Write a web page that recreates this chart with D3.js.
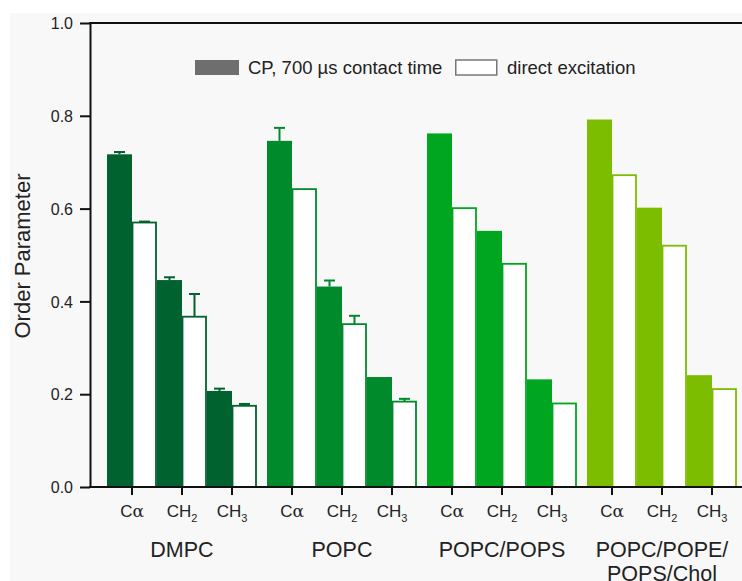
<!DOCTYPE html>
<html>
<head>
<meta charset="utf-8">
<style>
body { margin:0; background:#fff; }
svg { display:block; font-family:"Liberation Sans", Arial, sans-serif; }
.axis path, .axis line { stroke:#111; stroke-width:2; }
.axis text { font-size:16px; fill:#222; }
</style>
</head>
<body>
<svg id="chart"></svg>
<script src="https://cdnjs.cloudflare.com/ajax/libs/d3/7.8.5/d3.min.js"></script>
<script>
// data
var groups = ["DMPC", "POPC", "POPC/POPS", "POPC/POPE/POPS/Chol"]
var groupLines = [["DMPC"], ["POPC"], ["POPC/POPS"], ["POPC/POPE/", "POPS/Chol"]]
var sites = ["Cα", "CH2", "CH3"]
var series = ["CP, 700 µs contact time", "direct excitation"]
var cpValues = [[0.717, 0.446, 0.207], [0.746, 0.432, 0.237], [0.762, 0.552, 0.232], [0.792, 0.602, 0.241]]
var cpErrors = [[0.005, 0.006, 0.005], [0.028, 0.013, 0], [0, 0, 0], [0, 0, 0]]
var deValues = [[0.570, 0.367, 0.175], [0.642, 0.351, 0.184], [0.601, 0.481, 0.180], [0.672, 0.520, 0.211]]
var deErrors = [[0.002, 0.049, 0.004], [0, 0.018, 0.006], [0, 0, 0], [0, 0, 0]]
var yTicks = [0, 0.2, 0.4, 0.6, 0.8, 1.0]
var groupColors = ["#00622e", "#008a2b", "#00a61f", "#7cbd00"]

var W = 742, H = 581
var m = {left: 90, right: 742, top: 23, bottom: 487}

var svg = d3.select("#chart").attr("width", W).attr("height", H)

svg.append("rect").attr("x", 10).attr("y", 13).attr("width", W - 10).attr("height", H - 13)
  .attr("fill", "#f8f8f8")

var y = d3.scaleLinear().domain([0, 1]).range([m.bottom, m.top])
var x0 = d3.scaleBand().domain(groups).range([102, 742])
var x1 = d3.scaleBand().domain(sites).range([5, x0.bandwidth() - 5])
var x2 = d3.scaleBand().domain(series).range([0, x1.bandwidth()])

// flatten
var rows = []
groups.forEach(function(g, gi) {
  sites.forEach(function(s, si) {
    rows.push({g: g, gi: gi, s: s, k: 0, v: cpValues[gi][si], e: cpErrors[gi][si]})
    rows.push({g: g, gi: gi, s: s, k: 1, v: deValues[gi][si], e: deErrors[gi][si]})
  })
})
function bx(d) { return x0(d.g) + x1(d.s) + x2(series[d.k]) }
var bw = x2.bandwidth()

var gBars = svg.append("g")
gBars.selectAll("rect.cp").data(rows.filter(d => d.k == 0)).enter().append("rect")
  .attr("x", d => bx(d)).attr("width", bw)
  .attr("y", d => y(d.v)).attr("height", d => m.bottom - y(d.v))
  .attr("fill", d => groupColors[d.gi])
gBars.selectAll("rect.de").data(rows.filter(d => d.k == 1)).enter().append("rect")
  .attr("x", d => bx(d) + 0.5).attr("width", bw - 1.5)
  .attr("y", d => y(d.v)).attr("height", d => m.bottom - y(d.v))
  .attr("fill", "#fff").attr("stroke", d => groupColors[d.gi]).attr("stroke-width", 1.8)

// error bars (upper only)
var errs = gBars.selectAll("g.err").data(rows.filter(d => d.e > 0)).enter().append("g")
  .attr("stroke", d => groupColors[d.gi]).attr("stroke-width", 2)
errs.append("line")
  .attr("x1", d => bx(d) + bw / 2).attr("x2", d => bx(d) + bw / 2)
  .attr("y1", d => y(d.v)).attr("y2", d => y(d.v + d.e))
errs.append("line")
  .attr("x1", d => bx(d) + bw / 2 - 5.5).attr("x2", d => bx(d) + bw / 2 + 5.5)
  .attr("y1", d => y(d.v + d.e)).attr("y2", d => y(d.v + d.e))

// y axis
var yAxis = svg.append("g").attr("class", "axis")
  .attr("transform", "translate(" + m.left + ",0)")
  .call(d3.axisLeft(y).tickValues(yTicks).tickFormat(d3.format(".1f")).tickSize(10).tickSizeOuter(0))
yAxis.selectAll("text").attr("x", -17).attr("dy", "0.36em")

// frame lines top and bottom
svg.append("line").attr("x1", m.left - 1).attr("x2", m.right).attr("y1", m.top).attr("y2", m.top)
  .attr("stroke", "#111").attr("stroke-width", 2)
svg.append("line").attr("x1", m.left - 1).attr("x2", m.right).attr("y1", m.bottom).attr("y2", m.bottom)
  .attr("stroke", "#111").attr("stroke-width", 2)

// x axis, one per group
groups.forEach(function(g, gi) {
  var ax = svg.append("g").attr("class", "axis")
    .attr("transform", "translate(" + x0(g) + "," + m.bottom + ")")
    .call(d3.axisBottom(x1).tickSize(8).tickSizeOuter(0).tickFormat(""))
  ax.select(".domain").remove()
  ax.selectAll(".tick line").attr("transform", "translate(" + (-x1.bandwidth() / 2 + bw) + ",0)")
  ax.selectAll(".tick").each(function(s) {
    var t = d3.select(this).append("text")
      .attr("x", bw - x1.bandwidth() / 2).attr("y", 30)
      .attr("text-anchor", "middle").attr("fill", "#222").style("font-size", "17px")
    if (s == "Cα") {
      t.append("tspan").text("C")
      t.append("tspan").text("α").style("font-family", "DejaVu Serif").style("font-size", "17px")
    } else {
      t.append("tspan").text("CH")
      t.append("tspan").text(s.slice(2)).attr("dy", 5).style("font-size", "11px")
    }
  })
  var gl = svg.append("text")
    .attr("x", x0(g) + x1("CH2") + bw).attr("y", 557)
    .attr("text-anchor", "middle").attr("fill", "#222").style("font-size", "21.5px")
  groupLines[gi].forEach(function(line, li) {
    gl.append("tspan").attr("x", x0(g) + x1("CH2") + bw).attr("dy", li ? 24 : 0).text(line)
  })
})

// y label
svg.append("text")
  .attr("transform", "translate(30,256) rotate(-90)")
  .attr("text-anchor", "middle").attr("fill", "#222").style("font-size", "22px")
  .text("Order Parameter")

// legend
var leg = [{x: 195, tx: 248}, {x: 455, tx: 507}]
svg.selectAll("rect.leg").data(series).enter().append("rect")
  .attr("x", (d, i) => leg[i].x + (i ? 0.75 : 0)).attr("y", 60)
  .attr("width", (d, i) => i ? 41 : 44).attr("height", 15)
  .attr("fill", (d, i) => i ? "#fff" : "#6e6e6e")
  .attr("stroke", (d, i) => i ? "#777" : "none").attr("stroke-width", 1.5)
svg.selectAll("text.leg").data(series).enter().append("text")
  .attr("x", (d, i) => leg[i].tx).attr("y", 74)
  .attr("fill", "#222").style("font-size", "18.5px")
  .text(d => d)
</script>
</body>
</html>
